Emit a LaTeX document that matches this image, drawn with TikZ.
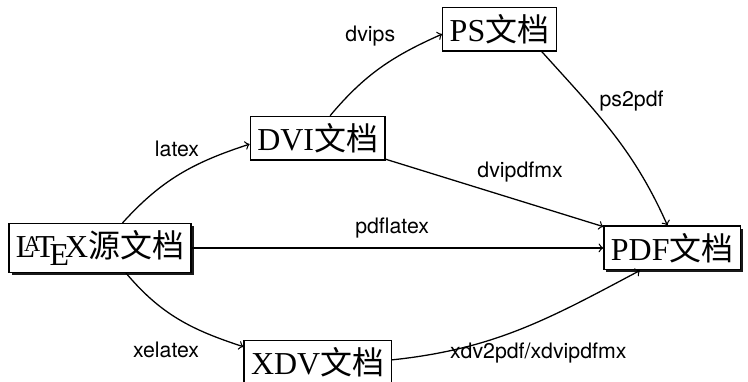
\documentclass[tikz,border=0pt]{standalone}
\usepackage{fontspec}
\setmainfont{Liberation Serif}
\setsansfont{TeX Gyre Heros}
\newfontfamily\cjkfont{Noto Sans CJK SC}
\usepackage{tikz}
\usetikzlibrary{arrows,arrows.meta}
\usetikzlibrary{shadows}
\tikzset{>=to}
\tikzstyle{doc}=[draw,semithick,fill=white,inner sep=3.3pt,font=\fontsize{15}{18}\selectfont]
\tikzstyle{shadow doc}=[doc,drop shadow={shadow xshift=1.2pt,shadow yshift=-1.2pt,fill=black,opacity=0.9}]
\tikzstyle{tool}=[font=\sffamily]
\tikzstyle{conv}=[->,semithick]
\newcommand{\wendang}{{\cjkfont 文档}}

\begin{document}
\begin{tikzpicture}
    \useasboundingbox (0,0) rectangle (12.34,6.29);

    \node[shadow doc] (latex) at (1.65,2.20) {\LaTeX{\cjkfont 源}\wendang};
    \node[doc] (dvi) at (5.24,4.01) {DVI\wendang};
    \node[doc] (ps) at (8.24,5.81) {PS\wendang};
    \node[shadow doc] (pdf) at (11.09,2.20) {PDF\wendang};
    \node[doc] (xdv) at (5.24,0.31) {XDV\wendang};

    \draw[conv] (latex.48) to[out=48,in=198] (dvi.185);
    \draw[conv] (dvi.61) to[out=50,in=204] (ps.185);
    \draw[conv] (ps.-28) to[out=-48,in=114] (pdf.102);
    \draw[conv] (dvi) -- (pdf);
    \draw[conv] (latex) -- (pdf);
    \draw[conv] (latex.-44) to[out=-50,in=162] (xdv.168);
    \draw[conv] (xdv.2) to[out=6,in=208] (pdf.215);

    \node[tool] (t-latex) at (2.92,3.83) {latex};
    \node[tool] (t-dvips) at (6.11,5.69) {dvips};
    \node[tool] (t-ps2pdf) at (10.42,4.62) {ps2pdf};
    \node[tool] (t-dvipdfmx) at (8.58,3.45) {dvipdfmx};
    \node[tool] (t-pdflatex) at (6.47,2.52) {pdflatex};
    \node[tool] (t-xelatex) at (2.74,0.51) {xelatex};
    \node[tool] (t-xdv) at (8.88,0.46) {xdv2pdf/xdvipdfmx};
\end{tikzpicture}
\end{document}
